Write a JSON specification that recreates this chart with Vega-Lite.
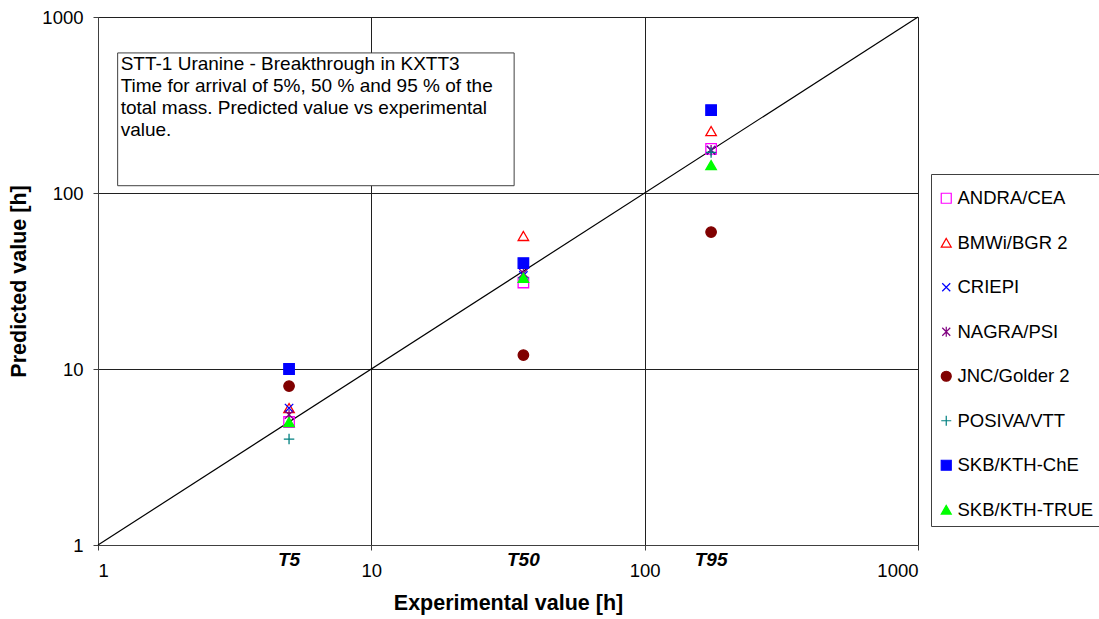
{
  "$schema": "https://vega.github.io/schema/vega-lite/v6.json",
  "width": 820,
  "height": 528,
  "autosize": {"type": "none"},
  "padding": {"left": 98, "top": 17, "right": 181, "bottom": 74},
  "background": "white",
  "config": {
    "font": "Liberation Sans",
    "view": {"stroke": "#808080", "strokeWidth": 1},
    "axis": {
      "labelFont": "Liberation Sans",
      "labelFontSize": 18.5,
      "labelColor": "black",
      "titleFont": "Liberation Sans",
      "titleFontSize": 21.5,
      "titleFontWeight": "bold",
      "titleColor": "black",
      "domainColor": "#404040",
      "tickColor": "#404040",
      "tickSize": 5,
      "gridColor": "#202020",
      "gridOpacity": 1,
      "gridWidth": 1
    }
  },
  "datasets": {
    "predictions": [
      {"model": "ANDRA/CEA", "stage": "T5", "experimental": 5, "predicted": 5.0},
      {"model": "ANDRA/CEA", "stage": "T50", "experimental": 36, "predicted": 31},
      {"model": "ANDRA/CEA", "stage": "T95", "experimental": 175, "predicted": 178},
      {"model": "BMWi/BGR 2", "stage": "T5", "experimental": 5, "predicted": 6.0},
      {"model": "BMWi/BGR 2", "stage": "T50", "experimental": 36, "predicted": 57},
      {"model": "BMWi/BGR 2", "stage": "T95", "experimental": 175, "predicted": 225},
      {"model": "CRIEPI", "stage": "T5", "experimental": 5, "predicted": 6.0},
      {"model": "CRIEPI", "stage": "T50", "experimental": 36, "predicted": 34},
      {"model": "CRIEPI", "stage": "T95", "experimental": 175, "predicted": 175},
      {"model": "NAGRA/PSI", "stage": "T5", "experimental": 5, "predicted": 5.5},
      {"model": "NAGRA/PSI", "stage": "T50", "experimental": 36, "predicted": 35},
      {"model": "NAGRA/PSI", "stage": "T95", "experimental": 175, "predicted": 175},
      {"model": "JNC/Golder 2", "stage": "T5", "experimental": 5, "predicted": 8.0},
      {"model": "JNC/Golder 2", "stage": "T50", "experimental": 36, "predicted": 12},
      {"model": "JNC/Golder 2", "stage": "T95", "experimental": 175, "predicted": 60},
      {"model": "POSIVA/VTT", "stage": "T5", "experimental": 5, "predicted": 4.0},
      {"model": "POSIVA/VTT", "stage": "T50", "experimental": 36, "predicted": 33},
      {"model": "POSIVA/VTT", "stage": "T95", "experimental": 175, "predicted": 170},
      {"model": "SKB/KTH-ChE", "stage": "T5", "experimental": 5, "predicted": 10},
      {"model": "SKB/KTH-ChE", "stage": "T50", "experimental": 36, "predicted": 40},
      {"model": "SKB/KTH-ChE", "stage": "T95", "experimental": 175, "predicted": 296},
      {"model": "SKB/KTH-TRUE", "stage": "T5", "experimental": 5, "predicted": 5.0},
      {"model": "SKB/KTH-TRUE", "stage": "T50", "experimental": 36, "predicted": 33},
      {"model": "SKB/KTH-TRUE", "stage": "T95", "experimental": 175, "predicted": 144}
    ],
    "identity": [
      {"experimental": 1, "predicted": 1},
      {"experimental": 1000, "predicted": 1000}
    ],
    "stages": [
      {"stage": "T5", "experimental": 5},
      {"stage": "T50", "experimental": 36},
      {"stage": "T95", "experimental": 175}
    ]
  },
  "layer": [
    {
      "data": {"values": [{}]},
      "mark": {"type": "rect", "fill": "white", "stroke": "#404040", "strokeWidth": 1},
      "encoding": {
        "x": {"datum": 1.18, "type": "quantitative", "scale": {"type": "log", "domain": [1, 1000]}},
        "x2": {"datum": 33.3},
        "y": {"datum": 625, "type": "quantitative", "scale": {"type": "log", "domain": [1, 1000]}},
        "y2": {"datum": 110}
      }
    },
    {
      "data": {"values": [{}]},
      "mark": {
        "type": "text",
        "align": "left",
        "baseline": "top",
        "fontSize": 19,
        "lineHeight": 22,
        "dx": 3,
        "dy": 2,
        "color": "black",
        "text": [
          "STT-1 Uranine - Breakthrough in KXTT3",
          "Time for arrival of 5%, 50 % and 95 % of the",
          "total mass. Predicted value vs experimental",
          "value."
        ]
      },
      "encoding": {
        "x": {"datum": 1.18, "type": "quantitative"},
        "y": {"datum": 625, "type": "quantitative"}
      }
    },
    {
      "data": {"name": "identity"},
      "mark": {"type": "line", "color": "black", "strokeWidth": 1.2},
      "encoding": {
        "x": {"field": "experimental", "type": "quantitative"},
        "y": {"field": "predicted", "type": "quantitative"}
      }
    },
    {
      "data": {"name": "stages"},
      "mark": {"type": "text", "fontSize": 19, "fontWeight": "bold", "fontStyle": "italic", "baseline": "middle", "dy": 15, "color": "black"},
      "encoding": {
        "x": {"field": "experimental", "type": "quantitative"},
        "y": {"datum": 1, "type": "quantitative"},
        "text": {"field": "stage"}
      }
    },
    {
      "data": {"name": "predictions"},
      "mark": {"type": "point", "size": 110, "strokeWidth": 1.3, "opacity": 1},
      "encoding": {
        "x": {
          "field": "experimental",
          "type": "quantitative",
          "scale": {"type": "log", "domain": [1, 1000]},
          "axis": {
            "title": "Experimental value [h]",
            "values": [1, 10, 100, 1000],
            "format": "d",
            "labelPadding": 11,
            "titlePadding": 13,
            "grid": true
          }
        },
        "y": {
          "field": "predicted",
          "type": "quantitative",
          "scale": {"type": "log", "domain": [1, 1000]},
          "axis": {
            "title": "Predicted value [h]",
            "values": [1, 10, 100, 1000],
            "format": "d",
            "labelPadding": 10,
            "titlePadding": 11,
            "grid": true
          }
        },
        "shape": {
          "field": "model",
          "type": "nominal",
          "scale": {
            "domain": ["ANDRA/CEA", "BMWi/BGR 2", "CRIEPI", "NAGRA/PSI", "JNC/Golder 2", "POSIVA/VTT", "SKB/KTH-ChE", "SKB/KTH-TRUE"],
            "range": [
              "square",
              "triangle-up",
              "M-0.8,-0.8L0.8,0.8M-0.8,0.8L0.8,-0.8",
              "M-0.8,-0.8L0.8,0.8M-0.8,0.8L0.8,-0.8M0,-1L0,1",
              "circle",
              "M-1,0L1,0M0,-1L0,1",
              "square",
              "triangle-up"
            ]
          },
          "legend": {
            "title": " ",
            "titleFontSize": 9,
            "titlePadding": 0,
            "orient": "none",
            "legendX": 833,
            "legendY": 157,
            "strokeColor": "#404040",
            "fillColor": "white",
            "padding": 6,
            "labelFontSize": 18.5,
            "labelFont": "Liberation Sans",
            "labelColor": "black",
            "labelOffset": 2,
            "symbolSize": 100,
            "symbolStrokeWidth": 1.2,
            "rowPadding": 25.5,
            "labelLimit": 200
          }
        },
        "stroke": {
          "field": "model",
          "type": "nominal",
          "scale": {
            "domain": ["ANDRA/CEA", "BMWi/BGR 2", "CRIEPI", "NAGRA/PSI", "JNC/Golder 2", "POSIVA/VTT", "SKB/KTH-ChE", "SKB/KTH-TRUE"],
            "range": ["#FF00FF", "#FF0000", "#0000FF", "#800080", "#800000", "#008080", "#0000FF", "#00FF00"]
          }
        },
        "fill": {
          "field": "model",
          "type": "nominal",
          "scale": {
            "domain": ["ANDRA/CEA", "BMWi/BGR 2", "CRIEPI", "NAGRA/PSI", "JNC/Golder 2", "POSIVA/VTT", "SKB/KTH-ChE", "SKB/KTH-TRUE"],
            "range": ["transparent", "transparent", "transparent", "transparent", "#800000", "transparent", "#0000FF", "#00FF00"]
          }
        }
      }
    }
  ]
}
